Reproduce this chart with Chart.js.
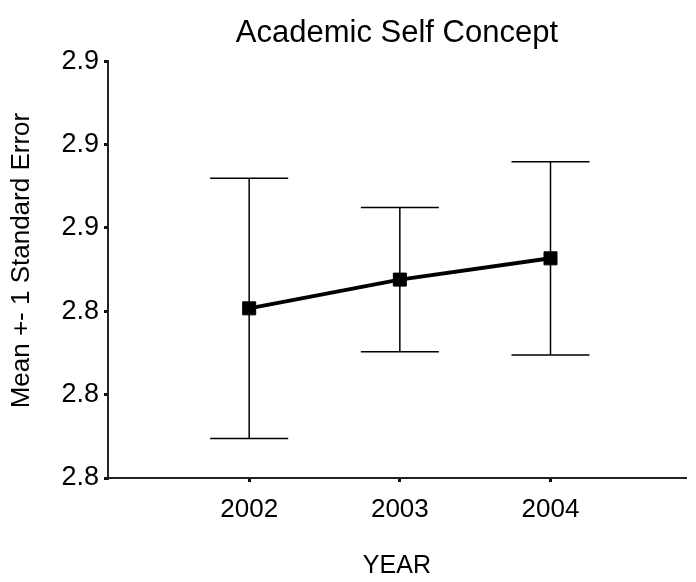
<!DOCTYPE html>
<html><head><meta charset="utf-8">
<script src="https://cdn.jsdelivr.net/npm/chart.js@4"></script>
<style>html,body{margin:0;padding:0;background:#fff}</style>
</head><body>
<canvas id="c" width="696" height="582" style="width:696px;height:582px;display:block"></canvas>
<script>
// ---- data ----
const years = [2002, 2003, 2004];
const means = [2.8407, 2.8476, 2.8527];
const stdErrors = [0.0312, 0.0173, 0.0232];
const yTickValues = [2.80, 2.82, 2.84, 2.86, 2.88, 2.90];
const yTickLabels = ['2.8', '2.8', '2.8', '2.9', '2.9', '2.9'];
const xTickValues = [2002, 2003, 2004];
const xTickLabels = ['2002', '2003', '2004'];
const chartTitle = 'Academic Self Concept';
const xTitle = 'YEAR';
const yTitle = 'Mean +- 1 Standard Error';

const X_MIN = 2001.063, X_MAX = 2004.898;
const Y_MIN = 2.80, Y_MAX = 2.90;
const FONT = '"Liberation Sans", Arial, sans-serif';

const errorBars = {
  id: 'errorBars',
  beforeDatasetsDraw(chart) {
    const {ctx, scales: {x, y}} = chart;
    ctx.save();
    ctx.strokeStyle = '#000';
    ctx.lineWidth = 1.5;
    const cap = 39;
    years.forEach((yr, i) => {
      const px = x.getPixelForValue(yr);
      const t = y.getPixelForValue(means[i] + stdErrors[i]);
      const b = y.getPixelForValue(means[i] - stdErrors[i]);
      ctx.beginPath();
      ctx.moveTo(px, t); ctx.lineTo(px, b);
      ctx.moveTo(px - cap, t); ctx.lineTo(px + cap, t);
      ctx.moveTo(px - cap, b); ctx.lineTo(px + cap, b);
      ctx.stroke();
    });
    ctx.restore();
  }
};

// y-axis title, drawn slightly above the plot centre as in the original
const yAxisTitle = {
  id: 'yAxisTitle',
  afterDraw(chart) {
    const {ctx, chartArea} = chart;
    ctx.save();
    ctx.fillStyle = '#000';
    ctx.font = '26px ' + FONT;
    ctx.textAlign = 'center';
    ctx.textBaseline = 'middle';
    ctx.translate(22, (chartArea.top + chartArea.bottom) / 2 - 9);
    ctx.rotate(-Math.PI / 2);
    ctx.fillText(yTitle, 0, 0);
    ctx.restore();
  }
};

new Chart(document.getElementById('c'), {
  type: 'line',
  data: {
    datasets: [{
      data: years.map((yr, i) => ({x: yr, y: means[i]})),
      borderColor: '#000',
      backgroundColor: '#000',
      borderWidth: 4,
      pointStyle: 'rect',
      pointRadius: 9.2,
      pointBorderWidth: 1,
      pointBackgroundColor: '#000',
      pointBorderColor: '#000',
      tension: 0
    }]
  },
  plugins: [errorBars, yAxisTitle],
  options: {
    responsive: false,
    devicePixelRatio: 1,
    animation: false,
    layout: {padding: {left: 0, right: 0, top: 0, bottom: 0}},
    plugins: {
      legend: {display: false},
      tooltip: {enabled: false},
      title: {
        display: true,
        fullSize: false,
        text: chartTitle,
        color: '#000',
        font: {family: FONT, size: 31, weight: 'normal'},
        padding: {top: 15, bottom: 9}
      }
    },
    scales: {
      x: {
        type: 'linear',
        min: X_MIN, max: X_MAX,
        afterBuildTicks: s => { s.ticks = xTickValues.map(v => ({value: v})); },
        afterFit: s => { s.height = 104; },
        ticks: {
          color: '#000',
          font: {family: FONT, size: 26},
          padding: 12,
          maxRotation: 0,
          autoSkip: false,
          callback: (v, i) => xTickLabels[i]
        },
        grid: {drawOnChartArea: false, drawTicks: true, tickLength: 4, lineWidth: 3, color: '#111'},
        border: {display: true, width: 2, color: '#222'},
        title: {
          display: true, text: xTitle, color: '#000',
          font: {family: FONT, size: 25},
          padding: {top: 0, bottom: 1}
        }
      },
      y: {
        type: 'linear',
        min: Y_MIN, max: Y_MAX,
        afterBuildTicks: s => { s.ticks = yTickValues.map(v => ({value: v})); },
        afterFit: s => { s.width = 108; },
        ticks: {
          color: '#000',
          font: {family: FONT, size: 27},
          padding: 5,
          autoSkip: false,
          callback: (v, i) => yTickLabels[i]
        },
        grid: {drawOnChartArea: false, drawTicks: true, tickLength: 4, lineWidth: 3, color: '#111'},
        border: {display: true, width: 2, color: '#222'},
        title: {display: false}
      }
    }
  }
});
</script>
</body></html>
